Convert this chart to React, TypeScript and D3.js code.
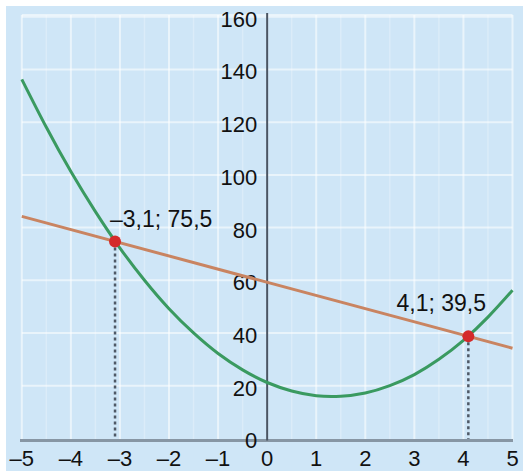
import React from "react";
import * as d3 from "d3";

const xTicks = [-5, -4, -3, -2, -1, 0, 1, 2, 3, 4, 5];
const yTicks = [0, 20, 40, 60, 80, 100, 120, 140, 160];

const parabolaX = [-5, -4.5, -4, -3.5, -3, -2.5, -2, -1.5, -1, -0.5, 0, 0.5, 1, 1.5, 2, 2.5, 3, 3.5, 4, 4.5, 5];
const parabolaY = [137, 118.8, 102, 86.8, 73, 60.8, 50, 40.8, 33, 26.8, 22, 18.8, 17, 16.8, 18, 20.8, 25, 30.8, 38, 46.8, 57];

const lineX = [-5, 5];
const lineY = [85, 35];

const pointX = [-3.1, 4.1];
const pointY = [75.5, 39.5];
const pointLabels = ["–3,1; 75,5", "4,1; 39,5"];

const W = 523;
const H = 471;

const fmt = (v: number) => (v < 0 ? "–" + Math.abs(v) : String(v));

export default function App() {
  const x = d3.scaleLinear().domain([-5, 5]).range([21.8, 512.5]);
  const y = d3.scaleLinear().domain([0, 160]).range([440.5, 18.7]);

  const parabolaData = parabolaX.map((v, i) => [v, parabolaY[i]] as [number, number]);
  const lineData = lineX.map((v, i) => [v, lineY[i]] as [number, number]);

  const curveGen = d3
    .line<[number, number]>()
    .x((d) => x(d[0]))
    .y((d) => y(d[1]))
    .curve(d3.curveNatural);
  const straightGen = d3
    .line<[number, number]>()
    .x((d) => x(d[0]))
    .y((d) => y(d[1]));

  const minorX = d3.range(-4.5, 5, 1);
  const font = "'Liberation Sans', Arial, Helvetica, sans-serif";

  return (
    <svg
      width={W}
      height={H}
      style={{ position: "absolute", left: 0, top: 0 }}
      fontFamily={font}
    >
      <rect x={0} y={0} width={W} height={H} fill="#ffffff" />
      <rect x={6} y={6} width={W - 6} height={H - 6} fill="#cfe6f7" />

      {/* minor vertical grid */}
      {minorX.map((v) => (
        <line
          key={"mx" + v}
          x1={x(v)}
          x2={x(v)}
          y1={15}
          y2={y(0)}
          stroke="#ffffff"
          strokeOpacity={0.25}
          strokeWidth={1.5}
        />
      ))}
      {/* major grid */}
      {xTicks.map((v) => (
        <line
          key={"gx" + v}
          x1={x(v)}
          x2={x(v)}
          y1={15}
          y2={y(0)}
          stroke="#ffffff"
          strokeOpacity={0.55}
          strokeWidth={2}
        />
      ))}
      {yTicks.slice(1).map((v) => (
        <line
          key={"gy" + v}
          x1={x(-5)}
          x2={x(5)}
          y1={y(v) - 2}
          y2={y(v) - 2}
          stroke="#ffffff"
          strokeOpacity={0.55}
          strokeWidth={2}
        />
      ))}
      <line x1={x(-5)} x2={x(5)} y1={15} y2={15} stroke="#ffffff" strokeOpacity={0.55} strokeWidth={2} />

      {/* dotted drop lines */}
      {pointX.map((v, i) => (
        <line
          key={"drop" + i}
          x1={x(v)}
          x2={x(v)}
          y1={y(pointY[i])}
          y2={y(0)}
          stroke="#4f5966"
          strokeWidth={2.5}
          strokeDasharray="3,3"
        />
      ))}

      {/* axes */}
      <line x1={20} x2={513} y1={y(0)} y2={y(0)} stroke="#8796a4" strokeWidth={3} />
      <line x1={x(0)} x2={x(0)} y1={13} y2={y(0)} stroke="#4a5563" strokeWidth={2} />

      {/* y tick labels */}
      {yTicks.map((v) => (
        <text
          key={"yl" + v}
          x={x(0) - 10}
          y={y(v)}
          dy="0.36em"
          textAnchor="end"
          fontSize={22}
          fill="#111"
        >
          {v}
        </text>
      ))}
      {/* x tick labels */}
      {xTicks.map((v) => (
        <text
          key={"xl" + v}
          x={x(v)}
          y={466}
          textAnchor="middle"
          fontSize={22}
          fill="#111"
        >
          {fmt(v)}
        </text>
      ))}

      {/* series */}
      <path d={straightGen(lineData) || ""} fill="none" stroke="#c98461" strokeWidth={3} />
      <path d={curveGen(parabolaData) || ""} fill="none" stroke="#3a9a60" strokeWidth={3} />

      {/* intersection points */}
      {pointX.map((v, i) => (
        <circle key={"pt" + i} cx={x(v)} cy={y(pointY[i])} r={6} fill="#d42a2a" />
      ))}
      <text x={x(pointX[0]) - 5} y={226.5} fontSize={23} fill="#111">
        {pointLabels[0]}
      </text>
      <text x={396.5} y={311} fontSize={23} fill="#111">
        {pointLabels[1]}
      </text>
    </svg>
  );
}
